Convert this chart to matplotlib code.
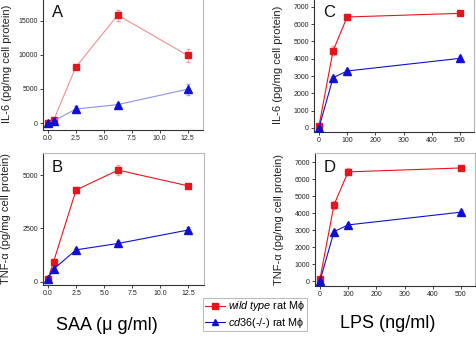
"""Cytokine release of wild type vs cd36(-/-) rat macrophages (SAA / LPS)."""
import matplotlib
matplotlib.use("Agg")
import matplotlib.pyplot as plt

plt.rcParams["font.family"] = ["Liberation Sans", "DejaVu Sans"]
plt.rcParams["mathtext.fontset"] = "custom"
plt.rcParams["mathtext.it"] = "Liberation Sans:italic"
plt.rcParams["mathtext.rm"] = "Liberation Sans"

# ── Dati ───────────────────────────────────────────────────────────────
saa_dose = [0.0, 0.5, 2.5, 6.25, 12.5]
lps_dose = [0, 50, 100, 500]

il6_saa_wt = [50, 400, 8200, 15800, 9900]
il6_saa_wt_err = [150, 200, 300, 800, 900]
il6_saa_ko = [0, 300, 2050, 2700, 4950]
il6_saa_ko_err = [100, 150, 400, 300, 800]

tnf_saa_wt = [140, 950, 4300, 5230, 4490]
tnf_saa_wt_err = [60, 80, 120, 220, 100]
tnf_saa_ko = [150, 600, 1500, 1800, 2430]
tnf_saa_ko_err = [60, 60, 100, 100, 120]

il6_lps_wt = [100, 4460, 6410, 6620]
il6_lps_wt_err = [80, 250, 200, 100]
il6_lps_ko = [0, 2900, 3290, 4020]
il6_lps_ko_err = [60, 120, 120, 120]

tnf_lps_wt = [100, 4480, 6420, 6650]
tnf_lps_wt_err = [80, 250, 200, 100]
tnf_lps_ko = [0, 2900, 3300, 4050]
tnf_lps_ko_err = [60, 120, 120, 120]

RED = "#e8141c"
BLUE = "#1010d0"


def _panel(ax, x, wt, wt_err, ko, ko_err, light=False):
    lc_r = "#f09090" if light else RED
    lc_b = "#9090e8" if light else BLUE
    ax.errorbar(x, wt, yerr=wt_err, color=lc_r, lw=0.8, marker="s", ms=5,
                mfc=RED, mec=RED, ecolor="#f4a0a0", elinewidth=0.6, capsize=1.5,
                zorder=3)
    ax.errorbar(x, ko, yerr=ko_err, color=lc_b, lw=0.8, marker="^", ms=5.5,
                mfc=BLUE, mec=BLUE, ecolor="#a0a0f0", elinewidth=0.6, capsize=1.5,
                zorder=3)
    for side in ("top", "right"):
        ax.spines[side].set_color("#b8b8b8")
    for side in ("left", "bottom"):
        ax.spines[side].set_color("#333333")
    for sp in ax.spines.values():
        sp.set_linewidth(0.8)
    ax.tick_params(labelsize=5, length=2, width=0.6, pad=1.5, colors="#222222")


fig = plt.figure(figsize=(4.77, 3.40), dpi=100)

ax_a = fig.add_axes([0.090, 0.618, 0.336, 0.386])
ax_b = fig.add_axes([0.090, 0.162, 0.338, 0.388])
ax_c = fig.add_axes([0.658, 0.612, 0.336, 0.392])
ax_d = fig.add_axes([0.660, 0.159, 0.336, 0.391])

_panel(ax_a, saa_dose, il6_saa_wt, il6_saa_wt_err, il6_saa_ko, il6_saa_ko_err, light=True)
_panel(ax_b, saa_dose, tnf_saa_wt, tnf_saa_wt_err, tnf_saa_ko, tnf_saa_ko_err)
_panel(ax_c, lps_dose, il6_lps_wt, il6_lps_wt_err, il6_lps_ko, il6_lps_ko_err)
_panel(ax_d, lps_dose, tnf_lps_wt, tnf_lps_wt_err, tnf_lps_ko, tnf_lps_ko_err)

for ax in (ax_a, ax_b):
    ax.set_xlim(-0.45, 13.9)
    ax.set_xticks([0, 2.5, 5, 7.5, 10, 12.5])
    ax.set_xticklabels(["0.0", "2.5", "5.0", "7.5", "10.0", "12.5"])
for ax in (ax_c, ax_d):
    ax.set_xlim(-18, 550)
    ax.set_xticks([0, 100, 200, 300, 400, 500])
    ax.set_yticks(range(0, 7001, 1000))

ax_a.set_ylim(-1000, 18200)
ax_a.set_yticks([0, 5000, 10000, 15000])
ax_b.set_ylim(-140, 6030)
ax_b.set_yticks([0, 2500, 5000])
ax_c.set_ylim(-230, 7470)
ax_d.set_ylim(-290, 7530)

for ax, lab in ((ax_a, "IL-6 (pg/mg cell protein)"),
                (ax_b, "TNF-α (pg/mg cell protein)"),
                (ax_c, "IL-6 (pg/mg cell protein)"),
                (ax_d, "TNF-α (pg/mg cell protein)")):
    ax.set_ylabel(lab, fontsize=8, color="#222222")
    ax.yaxis.set_label_coords(-0.195, 0.5)

for ax, letter in ((ax_a, "A"), (ax_b, "B"), (ax_c, "C"), (ax_d, "D")):
    ax.text(0.055, 0.95, letter, transform=ax.transAxes, fontsize=12,
            ha="left", va="top", color="#111111")

fig.text(0.224, 0.044, "SAA (μ g/ml)", fontsize=13, ha="center", va="center")
fig.text(0.813, 0.050, "LPS (ng/ml)", fontsize=13, ha="center", va="center")

h_wt, = ax_b.plot([], [], color=RED, lw=0.8, marker="s", ms=4.5)
h_ko, = ax_b.plot([], [], color=BLUE, lw=0.8, marker="^", ms=5)
leg = fig.legend([h_wt, h_ko],
                 [r"$\mathit{wild\;type}$ rat Mϕ", r"$\mathit{cd36(‐/‐)}$ rat Mϕ"],
                 loc="upper left", bbox_to_anchor=(0.426, 0.124),
                 fontsize=7.8, frameon=True, fancybox=False, edgecolor="#999999",
                 handlelength=1.9, handletextpad=0.25, borderpad=0.15,
                 labelspacing=0.2, borderaxespad=0)
leg.get_frame().set_linewidth(0.6)

fig.savefig("out.png", dpi=100)
